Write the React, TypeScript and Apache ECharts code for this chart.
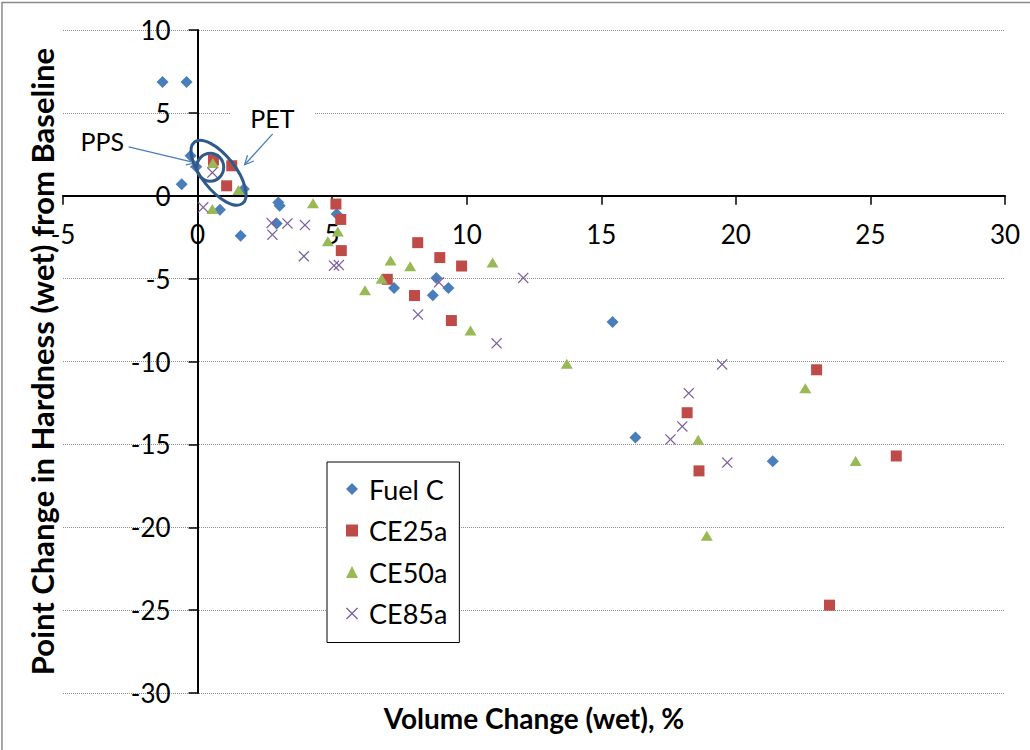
import React, { useEffect, useRef } from "react";
import * as echarts from "echarts";

// ---- data ----
const seriesNames = ["Fuel C", "CE25a", "CE50a", "CE85a"];

const fuelC: number[][] = [
  [-1.30, 6.87], [-0.41, 6.87], [-0.26, 2.41], [-0.05, 1.75], [-0.59, 0.70],
  [1.72, 0.40], [0.83, -0.84], [1.60, -2.41], [3.00, -0.40], [3.05, -0.60],
  [2.94, -1.67], [5.17, -1.10], [7.30, -5.56], [8.87, -4.96], [8.74, -6.00],
  [9.32, -5.56], [15.42, -7.61], [16.27, -14.58], [21.37, -16.02],
];

const ce25a: number[][] = [
  [0.59, 2.15], [1.27, 1.81], [1.08, 0.60], [5.14, -0.50], [5.32, -1.43],
  [5.34, -3.31], [8.18, -2.83], [9.00, -3.73], [9.81, -4.24], [7.05, -5.04],
  [8.06, -6.02], [9.43, -7.53], [18.19, -13.09], [23.00, -10.50], [18.63, -16.60],
  [25.96, -15.70], [23.48, -24.70],
];

const ce50a: number[][] = [
  [0.57, 1.97], [1.52, 0.34], [0.55, -0.80], [4.29, -0.46], [5.21, -2.15],
  [4.84, -2.75], [7.17, -3.90], [7.90, -4.26], [6.84, -5.00], [6.22, -5.70],
  [10.14, -8.13], [10.96, -4.02], [13.72, -10.14], [18.60, -14.72], [22.58, -11.61],
  [24.45, -16.00], [18.92, -20.52],
];

const ce85a: number[][] = [
  [-0.07, 2.00], [0.55, 1.40], [0.21, -0.70], [2.75, -1.64], [2.78, -2.35],
  [3.34, -1.67], [3.99, -1.77], [3.95, -3.65], [5.07, -4.22], [5.25, -4.18],
  [8.97, -5.22], [8.19, -7.17], [11.11, -8.90], [12.10, -4.96], [19.49, -10.18],
  [18.25, -11.91], [18.01, -13.92], [17.57, -14.70], [19.68, -16.10],
];

const xRange = [-5, 30];
const yRange = [-30, 10];
const tickStep = 5;

const xTitle = "Volume Change (wet), %";
const yTitle = "Point Change in Hardness (wet) from Baseline";

// annotation anchors (data coordinates)
const ppsLabel = { text: "PPS", at: [-3.54, 3.31], from: [-2.56, 2.95], to: [-0.07, 1.99] };
const petLabel = { text: "PET", at: [2.78, 4.70], from: [2.79, 3.73], to: [1.75, 1.87] };
const ppsRing = [0.47, 1.72];
const petRing = [0.78, 1.39];

const FONT = "Lato, 'Liberation Sans', Arial, sans-serif";
const COLORS = ["#4A7EBB", "#BE4B48", "#98B954", "#7D60A0"];
const X_SYMBOL =
  "path://M0,0.8 L0.8,0 L5,4.2 L9.2,0 L10,0.8 L5.8,5 L10,9.2 L9.2,10 L5,5.8 L0.8,10 L0,9.2 L4.2,5 Z";

export default function App() {
  const ref = useRef<HTMLDivElement>(null);

  useEffect(() => {
    document.body.style.margin = "0";
    const chart = echarts.init(ref.current!, null, { renderer: "svg" });

    const axisLabel = { fontSize: 26, color: "#000", fontFamily: FONT };
    const symbols = ["diamond", "rect", "triangle", X_SYMBOL];
    const sizes: any[] = [12, 11, [12, 10], 11];
    const datas = [fuelC, ce25a, ce50a, ce85a];

    chart.setOption({
      animation: false,
      backgroundColor: "#fff",
      grid: { left: 63, right: 25, top: 30, bottom: 57, containLabel: false, outerBoundsMode: "none" },
      xAxis: {
        type: "value",
        min: xRange[0],
        max: xRange[1],
        interval: tickStep,
        axisLine: { onZero: false, lineStyle: { color: "#000", width: 2 } },
        axisTick: { show: true, length: 9, lineStyle: { color: "#000", width: 1.5 } },
        axisLabel: { ...axisLabel, margin: 25 },
        splitLine: { show: false },
        name: xTitle,
        nameLocation: "middle",
        nameGap: 508,
        nameTextStyle: { fontSize: 28, fontWeight: "bold", color: "#000", fontFamily: FONT },
      },
      yAxis: {
        type: "value",
        min: yRange[0],
        max: yRange[1],
        interval: tickStep,
        axisLine: { onZero: false, lineStyle: { color: "#000", width: 2 } },
        axisTick: { show: true, length: 9, lineStyle: { color: "#000", width: 1.5 } },
        axisLabel: { ...axisLabel, margin: 27 },
        splitLine: { show: true, lineStyle: { color: "#8c8c8c", width: 1, type: [1, 1] } },
        name: yTitle,
        nameLocation: "middle",
        nameGap: 140,
        nameTextStyle: { fontSize: 31, fontWeight: "bold", color: "#000", fontFamily: FONT },
      },
      legend: {
        orient: "vertical",
        left: 327,
        top: 462,
        padding: [13, 12, 15, 19],
        itemGap: 13.5,
        itemWidth: 12,
        itemHeight: 12,
        borderColor: "#000",
        borderWidth: 1,
        backgroundColor: "#fff",
        textStyle: { fontSize: 27, color: "#000", fontFamily: FONT, lineHeight: 28, padding: [0, 0, 0, 6] },
        data: seriesNames,
      },
      series: seriesNames.map((name, i) => ({
        name,
        type: "scatter",
        data: datas[i],
        symbol: symbols[i],
        symbolSize: sizes[i],
        itemStyle: { color: COLORS[i], opacity: 1 },
        z: 3 + i,
      })),
    });

    const px = (p: number[]) => chart.convertToPixel({ gridIndex: 0 }, p) as number[];

    // move both axes (line, ticks, labels, names) so they cross at the origin
    const origin = px([0, 0]);
    const corner = px([xRange[0], yRange[0]]);
    chart.setOption({
      xAxis: { offset: -(corner[1] - origin[1]) },
      yAxis: { offset: -(origin[0] - corner[0]) },
    });

    const arrow = (from: number[], to: number[]) => {
      const a = px(from);
      const b = px(to);
      const ang = Math.atan2(b[1] - a[1], b[0] - a[0]);
      const L = 10;
      const spread = 0.45;
      const h1 = [b[0] - L * Math.cos(ang - spread), b[1] - L * Math.sin(ang - spread)];
      const h2 = [b[0] - L * Math.cos(ang + spread), b[1] - L * Math.sin(ang + spread)];
      const st = { stroke: "#4A7EBB", lineWidth: 1.3, fill: "none" };
      return [
        { type: "line", shape: { x1: a[0], y1: a[1], x2: b[0], y2: b[1] }, style: st, z: 100 },
        { type: "polyline", shape: { points: [h1, b, h2] }, style: st, z: 100 },
      ];
    };

    const pps = px(ppsLabel.at);
    const pet = px(petLabel.at);
    const c1 = px(ppsRing);
    const c2 = px(petRing);

    chart.setOption({
      graphic: [
        {
          type: "rect",
          silent: true,
          shape: { x: 2, y: 2.5, width: 1100, height: 800 },
          style: { fill: "none", stroke: "#8a8a8a", lineWidth: 1.5 },
          z: 200,
        },
        {
          type: "text",
          x: pps[0],
          y: pps[1],
          style: { text: ppsLabel.text, fontSize: 25, fontFamily: FONT, fill: "#000", align: "center", verticalAlign: "middle" },
          z: 100,
        },
        {
          type: "text",
          x: pet[0],
          y: pet[1],
          style: {
            text: petLabel.text,
            fontSize: 25,
            fontFamily: FONT,
            fill: "#000",
            align: "center",
            verticalAlign: "middle",
            backgroundColor: "#fff",
            padding: [3, 20],
          },
          z: 100,
        },
        ...arrow(ppsLabel.from, ppsLabel.to),
        ...arrow(petLabel.from, petLabel.to),
        {
          type: "ellipse",
          x: c1[0],
          y: c1[1],
          shape: { cx: 0, cy: 0, rx: 13.5, ry: 14 },
          style: { fill: "none", stroke: "#2F5B8C", lineWidth: 3 },
          z: 101,
        },
        {
          type: "ellipse",
          x: c2[0],
          y: c2[1],
          rotation: (-52 * Math.PI) / 180,
          shape: { cx: 0, cy: 0, rx: 39, ry: 17 },
          style: { fill: "none", stroke: "#2F5B8C", lineWidth: 3 },
          z: 101,
        },
      ],
    });

    return () => chart.dispose();
  }, []);

  return <div ref={ref} style={{ width: 1030, height: 750 }} />;
}
